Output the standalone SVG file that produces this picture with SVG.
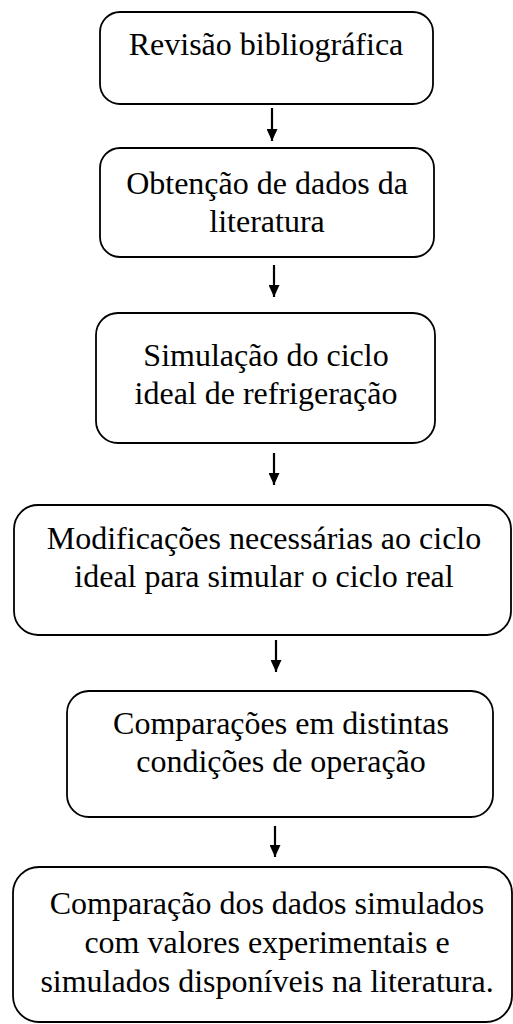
<svg xmlns="http://www.w3.org/2000/svg" width="513" height="1024" viewBox="0 0 513 1024">
<style>
.box{fill:#fff;stroke:#000;stroke-width:1.8}
.t{font-size:32px;fill:#000;text-anchor:middle}
.c{stroke:#000;stroke-width:2.2;fill:none;marker-end:url(#ah)}
</style>
<defs>
<marker id="ah" markerWidth="12" markerHeight="11" refX="12" refY="5.5" orient="auto" markerUnits="userSpaceOnUse" viewBox="0 0 12 11">
<path d="M0,0 L12,5.5 L0,11 Z" fill="#000"/>
</marker>
</defs>
<rect width="513" height="1024" fill="#fff"/>
<g id="connectors">
<line class="c" x1="272" y1="108" x2="272" y2="141"/>
<line class="c" x1="274" y1="265" x2="274" y2="297"/>
<line class="c" x1="274" y1="453" x2="274" y2="485"/>
<line class="c" x1="276" y1="640" x2="276" y2="672"/>
<line class="c" x1="275" y1="826" x2="275" y2="857"/>
</g>
<g id="nodes" font-family="Liberation Serif, Times New Roman, serif">
<g id="n1">
<rect class="box" x="100" y="12" width="333" height="92" rx="20"/>
<text class="t" x="266" y="55">Revisão bibliográfica</text>
</g>
<g id="n2">
<rect class="box" x="100" y="148" width="334" height="109" rx="20"/>
<text class="t" x="267" y="194">Obtenção de dados da</text>
<text class="t" x="267" y="232">literatura</text>
</g>
<g id="n3">
<rect class="box" x="96" y="313" width="339" height="130" rx="22"/>
<text class="t" x="266" y="366">Simulação do ciclo</text>
<text class="t" x="266" y="404">ideal de refrigeração</text>
</g>
<g id="n4">
<rect class="box" x="14" y="505" width="497" height="130" rx="24"/>
<text class="t" x="264" y="549">Modificações necessárias ao ciclo</text>
<text class="t" x="264" y="587">ideal para simular o ciclo real</text>
</g>
<g id="n5">
<rect class="box" x="67" y="691" width="426" height="126" rx="22"/>
<text class="t" x="281" y="734">Comparações em distintas</text>
<text class="t" x="281" y="772">condições de operação</text>
</g>
<g id="n6">
<rect class="box" x="13" y="867" width="499" height="155" rx="26"/>
<text class="t" x="267" y="914">Comparação dos dados simulados</text>
<text class="t" x="267" y="953">com valores experimentais e</text>
<text class="t" x="267" y="992">simulados disponíveis na literatura.</text>
</g>
</g>
</svg>
